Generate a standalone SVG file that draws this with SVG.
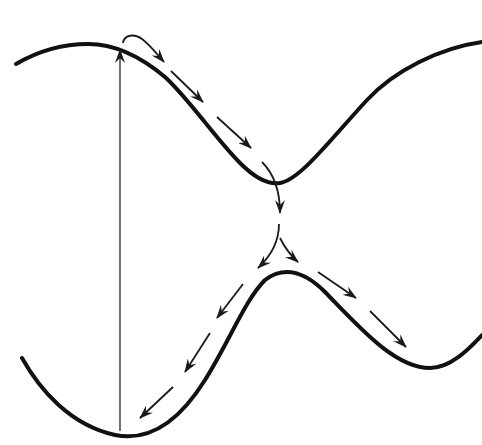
<svg xmlns="http://www.w3.org/2000/svg" width="482" height="445" viewBox="0 0 482 445">
<defs>
<marker id="ah" viewBox="0 0 14 10" refX="13" refY="5" markerWidth="14" markerHeight="10" markerUnits="userSpaceOnUse" orient="auto">
<path d="M0,0 L14,5 L0,10 L5,5 z" fill="#1a1a1a"/>
</marker>
</defs>
<style>
.curve{fill:none;stroke:#111;stroke-width:4;stroke-linecap:round}
.arr{fill:none;stroke:#1a1a1a;stroke-width:1.8;marker-end:url(#ah)}
.axis{fill:none;stroke:#333;stroke-width:1.4;marker-end:url(#ah)}
</style>
<rect width="482" height="445" fill="#fff"/>
<g id="upper-curve">
<path class="curve" d="M16,64 C40,50 65,44 88,44 C115,44 140,56 165,77 C190,100 215,138 240,163 C255,178 268,185 280,183 C300,180 330,140 367,100 C395,70 440,48 482,42"/>
</g>
<g id="lower-curve">
<path class="curve" d="M22,358 C40,390 70,425 115,435 C150,442 180,420 205,380 C230,340 245,300 265,280 C285,265 305,272 325,292 C360,328 395,368 430,368 C450,368 468,350 482,335"/>
</g>
<g id="connectors">
<path class="axis" d="M120,431 L120,50"/>
<path class="arr" d="M123,43 C124,35 134,33 142,39 C150,45 157,54 164,62"/>
<path class="arr" d="M171,71 L203,102"/>
<path class="arr" d="M217,117 L251,148"/>
<path class="arr" d="M262,162 C274,174 280,190 280,213"/>
<path class="arr" d="M279,224 C279,240 272,255 258,268"/>
<path class="arr" d="M280,238 C285,248 290,255 298,262"/>
<path class="arr" d="M318,272 L356,298"/>
<path class="arr" d="M370,311 L406,347"/>
<path class="arr" d="M243,284 L217,318"/>
<path class="arr" d="M210,333 L185,372"/>
<path class="arr" d="M173,387 L140,418"/>
</g>
</svg>
